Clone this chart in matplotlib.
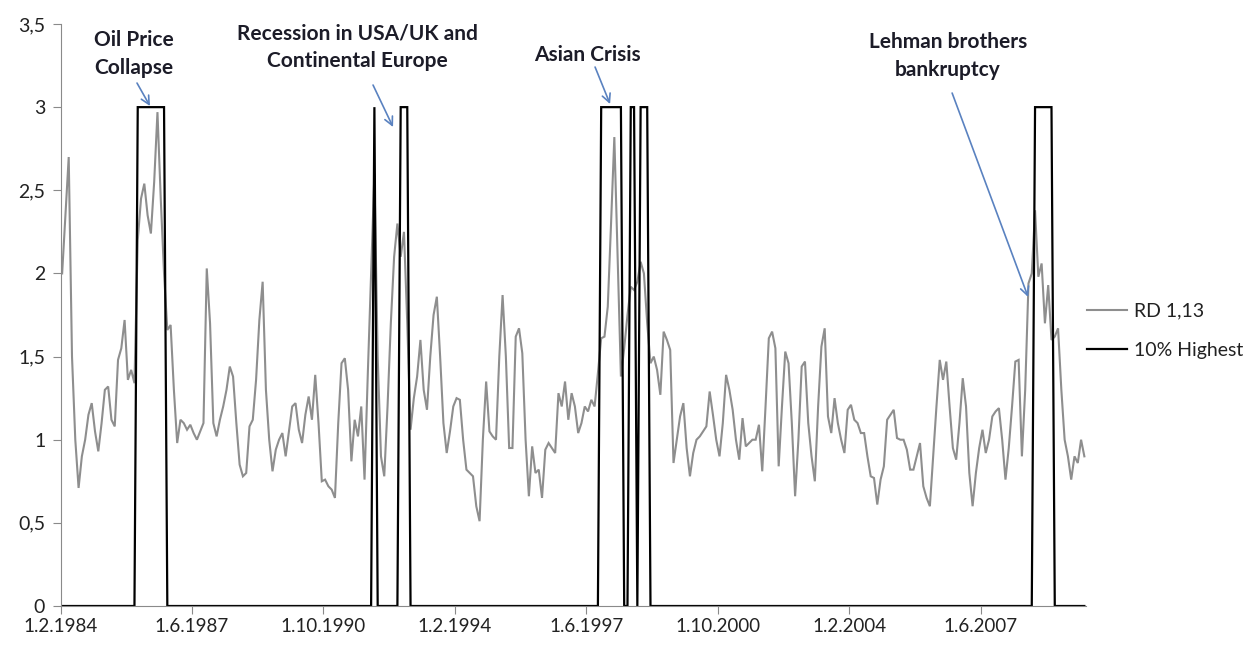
import matplotlib
matplotlib.use("Agg")
import matplotlib.pyplot as plt
import numpy as np
from matplotlib.lines import Line2D

plt.rcParams['font.family'] = ['Lato', 'DejaVu Sans']

# monthly RD 1,13 values, Feb 1984 onwards
rd_values = [
    2.00, 2.35, 2.70, 1.50, 1.00, 0.71, 0.90, 1.00, 1.15, 1.22, 1.05, 0.93,
    1.10, 1.30, 1.32, 1.12, 1.08, 1.48, 1.55, 1.72, 1.36, 1.42, 1.34, 2.20,
    2.45, 2.54, 2.35, 2.24, 2.55, 2.97, 2.45, 2.00, 1.66, 1.69, 1.30, 0.98,
    1.12, 1.10, 1.06, 1.09, 1.04, 1.00, 1.05, 1.10, 2.03, 1.70, 1.10, 1.02,
    1.12, 1.20, 1.30, 1.44, 1.38, 1.10, 0.85, 0.78, 0.80, 1.08, 1.12, 1.36,
    1.72, 1.95, 1.30, 1.00, 0.81, 0.94, 1.00, 1.04, 0.90, 1.05, 1.20, 1.22,
    1.06, 0.98, 1.15, 1.26, 1.12, 1.39, 1.10, 0.75, 0.76, 0.72, 0.70, 0.65,
    1.10, 1.46, 1.49, 1.30, 0.87, 1.12, 1.02, 1.20, 0.76, 1.40, 2.00, 2.60,
    1.50, 0.90, 0.78, 1.20, 1.70, 2.10, 2.30, 2.10, 2.25, 1.70, 1.06, 1.25,
    1.38, 1.60, 1.30, 1.18, 1.50, 1.75, 1.86, 1.50, 1.10, 0.92, 1.05, 1.20,
    1.25, 1.24, 1.00, 0.82, 0.80, 0.78, 0.60, 0.51, 1.00, 1.35, 1.05, 1.02,
    1.00, 1.50, 1.87, 1.50, 0.95, 0.95, 1.62, 1.67, 1.52, 1.00, 0.66, 0.96,
    0.80, 0.82, 0.65, 0.94, 0.98, 0.95, 0.92, 1.28, 1.20, 1.35, 1.12, 1.28,
    1.20, 1.04, 1.10, 1.20, 1.17, 1.24, 1.20, 1.40, 1.61, 1.62, 1.80, 2.30,
    2.82, 2.10, 1.38, 1.55, 1.75, 1.92, 1.90, 1.95, 2.07, 2.00, 1.70, 1.46,
    1.50, 1.42, 1.27, 1.65, 1.60, 1.54, 0.86, 1.00, 1.14, 1.22, 0.95, 0.78,
    0.92, 1.00, 1.02, 1.05, 1.08, 1.29, 1.15, 1.00, 0.90, 1.10, 1.39, 1.30,
    1.18, 1.00, 0.88, 1.13, 0.96, 0.98, 1.00, 1.00, 1.09, 0.81, 1.20, 1.61,
    1.65, 1.55, 0.84, 1.20, 1.53, 1.46, 1.10, 0.66, 1.00, 1.44, 1.47, 1.10,
    0.90, 0.75, 1.20, 1.56, 1.67, 1.14, 1.04, 1.25, 1.10, 1.00, 0.92, 1.18,
    1.21, 1.12, 1.10, 1.04, 1.04, 0.90, 0.78, 0.77, 0.61, 0.76, 0.84, 1.12,
    1.15, 1.18, 1.01, 1.00, 1.00, 0.94, 0.82, 0.82, 0.90, 0.98, 0.72, 0.65,
    0.60, 0.90, 1.20, 1.48, 1.36, 1.47, 1.20, 0.95, 0.88, 1.10, 1.37, 1.20,
    0.80, 0.60, 0.80, 0.95, 1.06, 0.92, 1.00, 1.14, 1.17, 1.19, 1.00, 0.76,
    0.95, 1.20, 1.47, 1.48, 0.90, 1.30, 1.94, 2.00, 2.38, 1.98, 2.06, 1.70,
    1.93, 1.60, 1.62, 1.67, 1.30, 1.00, 0.90, 0.76, 0.90, 0.86, 1.00, 0.90,
]

# months (index from Feb 1984) flagged as the 10% highest
highest_months = [23, 24, 25, 26, 27, 28, 29, 30, 31, 95, 103, 104, 105,
                  164, 165, 166, 167, 168, 169, 170, 173, 174, 176, 177, 178,
                  296, 297, 298, 299, 300, 301]
highest_level = 3

tick_months = [0, 40, 80, 120, 160, 200, 240, 280]
tick_labels = ["1.2.1984", "1.6.1987", "1.10.1990", "1.2.1994",
               "1.6.1997", "1.10.2000", "1.2.2004", "1.6.2007"]
y_ticks = [0, 0.5, 1, 1.5, 2, 2.5, 3, 3.5]

n = len(rd_values)
x = np.arange(n) + 0.5
highest = [highest_level if i in highest_months else 0 for i in range(n)]

W, H = 1250, 646
fig = plt.figure(figsize=(W / 100, H / 100), dpi=100)
ax = fig.add_axes([60.5 / W, 1 - 606 / H, (1086 - 60.5) / W, (606 - 24) / H])

ax.plot(x, rd_values, color="#8e8e8e", lw=1.5, solid_joinstyle="miter")
ax.plot(x, highest, color="black", lw=1.6, solid_joinstyle="miter")

ax.set_xlim(0, n)
ax.set_ylim(0, 3.5)
ax.set_xticks(tick_months)
ax.set_xticklabels(tick_labels)
ax.set_yticks(y_ticks)
ax.set_yticklabels([f"{v:g}".replace(".", ",") for v in y_ticks])

for s in ["top", "right"]:
    ax.spines[s].set_visible(False)
ax.spines["left"].set_color("#8a8a8a")
ax.spines["bottom"].set_color("#8a8a8a")
ax.tick_params(axis="both", direction="out", length=6, color="#8a8a8a",
               labelsize=13.5, labelcolor="#222222")
ax.tick_params(axis="y", pad=5, labelsize=14)
ax.tick_params(axis="x", pad=3)


def px_to_data(px, py):
    return ((px - 60.5) / 3.2864, (606 - py) / 166.3)


txt_kw = dict(ha="center", va="center", fontsize=15, fontweight="bold",
              color="#1c1c28", linespacing=1.5)
arrow_kw = dict(arrowstyle="->,head_length=0.6,head_width=0.3",
                color="#5a82c0", lw=1.2, shrinkA=0, shrinkB=0)

annotations = [
    ("Oil Price\nCollapse", (134, 54), (137, 83), (150, 106)),
    ("Recession in USA/UK and\nContinental Europe", (357, 47), (373, 85), (393, 127)),
    ("Asian Crisis", (587, 55), (595, 67), (610, 104)),
    ("Lehman brothers\nbankruptcy", (948, 56), (952, 93), (1028, 297)),
]
for label, tpos, tail, head in annotations:
    ax.text(*px_to_data(*tpos), label, **txt_kw)
    ax.annotate("", xy=px_to_data(*head), xytext=px_to_data(*tail),
                arrowprops=arrow_kw)

handles = [Line2D([], [], color="#8e8e8e", lw=1.5),
           Line2D([], [], color="black", lw=1.6)]
fig.legend(handles, ["RD 1,13", "10% Highest"], loc="upper left",
           bbox_to_anchor=(1069 / W, 1 - 285 / H), frameon=False,
           fontsize=14, handlelength=2.1, handletextpad=0.35,
           labelspacing=1.15, labelcolor="#222222")

fig.savefig("out.png", dpi=100)
